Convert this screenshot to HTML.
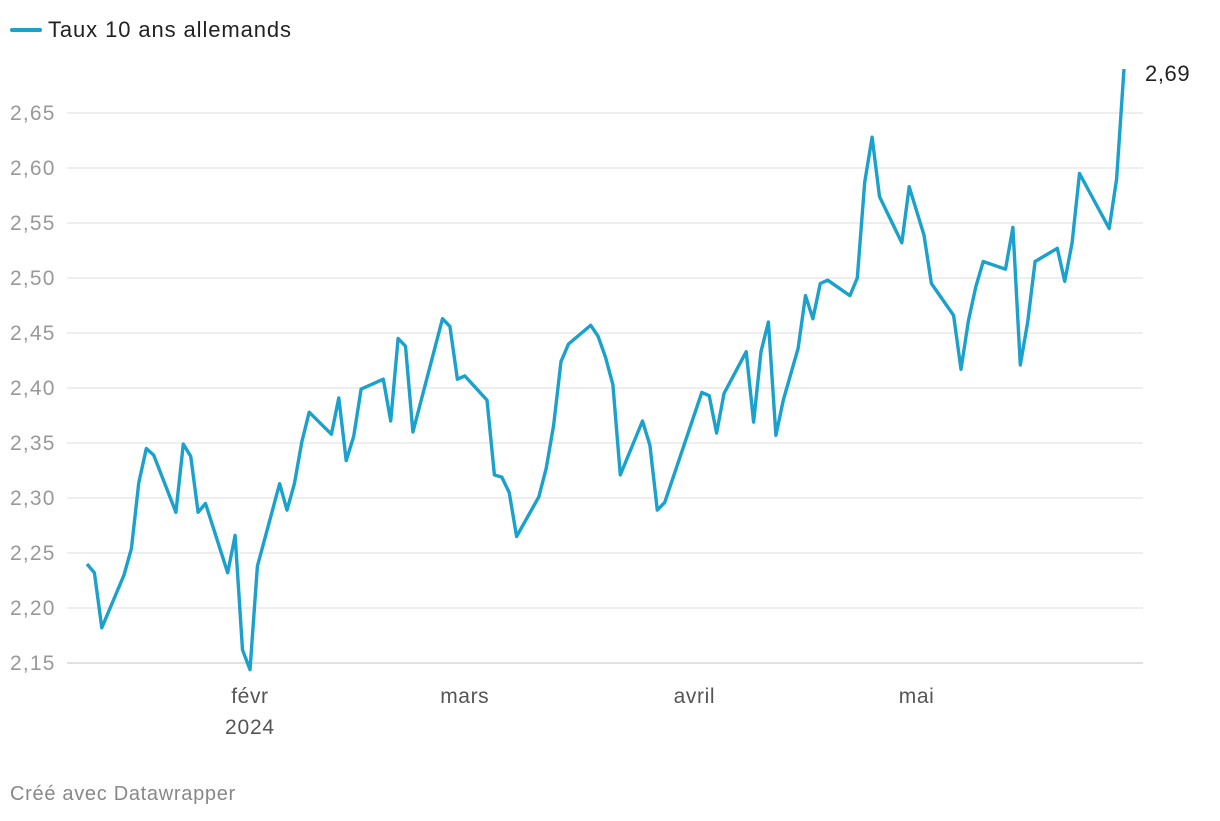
<!DOCTYPE html>
<html><head><meta charset="utf-8"><style>
body{margin:0;background:#fff;width:1220px;height:816px;overflow:hidden;font-family:"Liberation Sans",sans-serif}
svg text{font-family:"Liberation Sans",sans-serif}
</style></head><body>
<svg id="chart" width="1220" height="816" xmlns="http://www.w3.org/2000/svg">
<g>
<line x1="12" y1="30" x2="40" y2="30" stroke="#1aa1cc" stroke-width="4" stroke-linecap="round"/>
<text x="48" y="37" font-size="22" letter-spacing="0.9" fill="#222">Taux 10 ans allemands</text>
</g>
<g id="grid"></g><g id="xt"></g>
<path id="line" fill="none" stroke="#1aa1cc" stroke-width="3.4" stroke-linejoin="round"/>
<text id="lastlbl" x="1145" y="82" font-size="22" letter-spacing="0.6" fill="#222"></text>
<text x="10" y="800" font-size="20" letter-spacing="0.7" fill="#888">Créé avec Datawrapper</text>
</svg>
<script>
const days=[0,1,2,5,6,7,8,9,12,13,14,15,16,19,20,21,22,23,26,27,28,29,30,33,34,35,36,37,40,41,42,43,44,48,49,50,51,54,55,56,57,58,61,62,63,64,65,68,69,70,71,72,75,76,77,78,83,84,85,86,89,90,91,92,93,94,96,97,98,99,100,103,104,105,106,107,110,111,113,114,117,118,119,120,121,124,125,126,127,128,131,132,133,134,138,139,140];
const values=[2.240,2.232,2.182,2.230,2.254,2.314,2.345,2.339,2.287,2.349,2.338,2.287,2.295,2.232,2.266,2.162,2.144,2.238,2.313,2.289,2.313,2.351,2.378,2.358,2.391,2.334,2.356,2.399,2.408,2.370,2.445,2.438,2.360,2.463,2.456,2.408,2.411,2.389,2.321,2.319,2.305,2.265,2.301,2.327,2.366,2.424,2.440,2.457,2.447,2.428,2.403,2.321,2.370,2.348,2.289,2.296,2.396,2.393,2.359,2.395,2.433,2.369,2.433,2.460,2.357,2.389,2.436,2.484,2.463,2.495,2.498,2.484,2.500,2.587,2.628,2.574,2.532,2.583,2.539,2.495,2.466,2.417,2.461,2.492,2.515,2.508,2.546,2.421,2.460,2.515,2.527,2.497,2.532,2.595,2.545,2.590,2.69];
const yTicks=[2.15,2.20,2.25,2.30,2.35,2.40,2.45,2.50,2.55,2.60,2.65];
const monthLabels=["févr","mars","avril","mai"];
const monthDays=[22,51,82,112];
const x=d=>87+d*7.407;
const y=v=>663-(v-2.15)*1100;
const NS="http://www.w3.org/2000/svg";
const g=document.getElementById('grid');
yTicks.forEach((t,i)=>{
 const l=document.createElementNS(NS,'line');
 l.setAttribute('x1',67);l.setAttribute('x2',1143);l.setAttribute('y1',y(t));l.setAttribute('y2',y(t));
 l.setAttribute('stroke',i==0?'#cfcfcf':'#e3e3e3');l.setAttribute('stroke-width',1.3);
 
 
 g.appendChild(l);
 const tx=document.createElementNS(NS,'text');
 tx.setAttribute('x',10);tx.setAttribute('y',y(t)+7);tx.setAttribute('font-size',21);tx.setAttribute('letter-spacing',1.2);tx.setAttribute('fill','#999');
 tx.textContent=t.toFixed(2).replace('.',',');
 
 
 g.appendChild(tx);
});
const xt=document.getElementById('xt');
monthLabels.forEach((m,i)=>{
 const tx=document.createElementNS(NS,'text');
 tx.setAttribute('x',x(monthDays[i]));tx.setAttribute('y',703);tx.setAttribute('font-size',21);tx.setAttribute('letter-spacing',0.6);tx.setAttribute('fill','#555');tx.setAttribute('text-anchor','middle');
 tx.textContent=m;
 
 
 xt.appendChild(tx);
});
const yr=document.createElementNS(NS,'text');
yr.setAttribute('x',x(monthDays[0]));yr.setAttribute('y',734);yr.setAttribute('font-size',21);yr.setAttribute('letter-spacing',0.8);yr.setAttribute('fill','#555');yr.setAttribute('text-anchor','middle');
yr.textContent='2024';


xt.appendChild(yr);
document.getElementById('line').setAttribute('d',days.map((d,i)=>(i?'L':'M')+x(d).toFixed(1)+','+y(values[i]).toFixed(1)).join(''));
const last=values[values.length-1];
const ll=document.getElementById('lastlbl');
ll.textContent=last.toFixed(2).replace('.',',');
ll.setAttribute('y',y(last)+12);
</script>
</body></html>
